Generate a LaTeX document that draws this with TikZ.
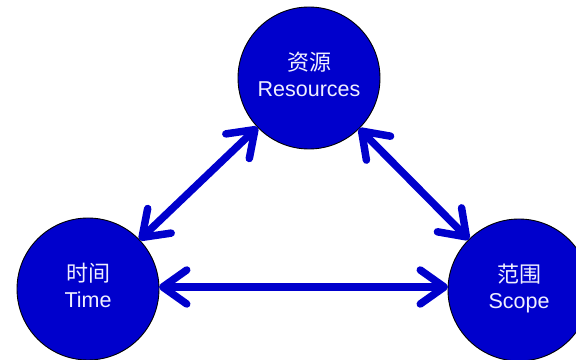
\documentclass[tikz,border=0pt]{standalone}
\usepackage{fontspec}
\setmainfont{Liberation Sans}
\newfontfamily\cjk{Noto Sans CJK SC}
\usetikzlibrary{arrows.meta}
\definecolor{ballblue}{HTML}{0000CC}
\definecolor{labelwhite}{HTML}{F0F0FF}
% two-line label, lifted a little above the circle's centre
\newcommand{\balllabel}[2]{\raisebox{2pt}{\begin{tabular}{@{}c@{}}{\cjk\fontsize{22}{26}\selectfont #1}\\#2\end{tabular}}}
\tikzset{
  ball/.style={circle, draw=black, line width=0.9pt, fill=ballblue,
    minimum size=142pt, inner sep=0pt, outer sep=0pt,
    text=labelwhite, align=center,
    font=\fontsize{21.5}{26}\selectfont},
  link/.style={draw=ballblue, line width=7.5pt,
    {Straight Barb[length=24pt,width=34pt,round]}-{Straight Barb[length=24pt,width=34pt,round]}}
}
\begin{document}
\begin{tikzpicture}[x=1pt,y=1pt]
  \useasboundingbox (0,0) rectangle (576,359);
  \node[ball] (res) at (309,281) {\balllabel{资源}{Resources}};
  \node[ball] (time) at (88,70) {\balllabel{时间}{Time}};
  \node[ball] (scope) at (519,69) {\balllabel{范围}{Scope}};
  \draw[link] (res) -- (time);
  \draw[link] (res) -- (scope);
  \draw[link] (time.east |- 0,72) -- (scope.west |- 0,72);
\end{tikzpicture}
\end{document}
